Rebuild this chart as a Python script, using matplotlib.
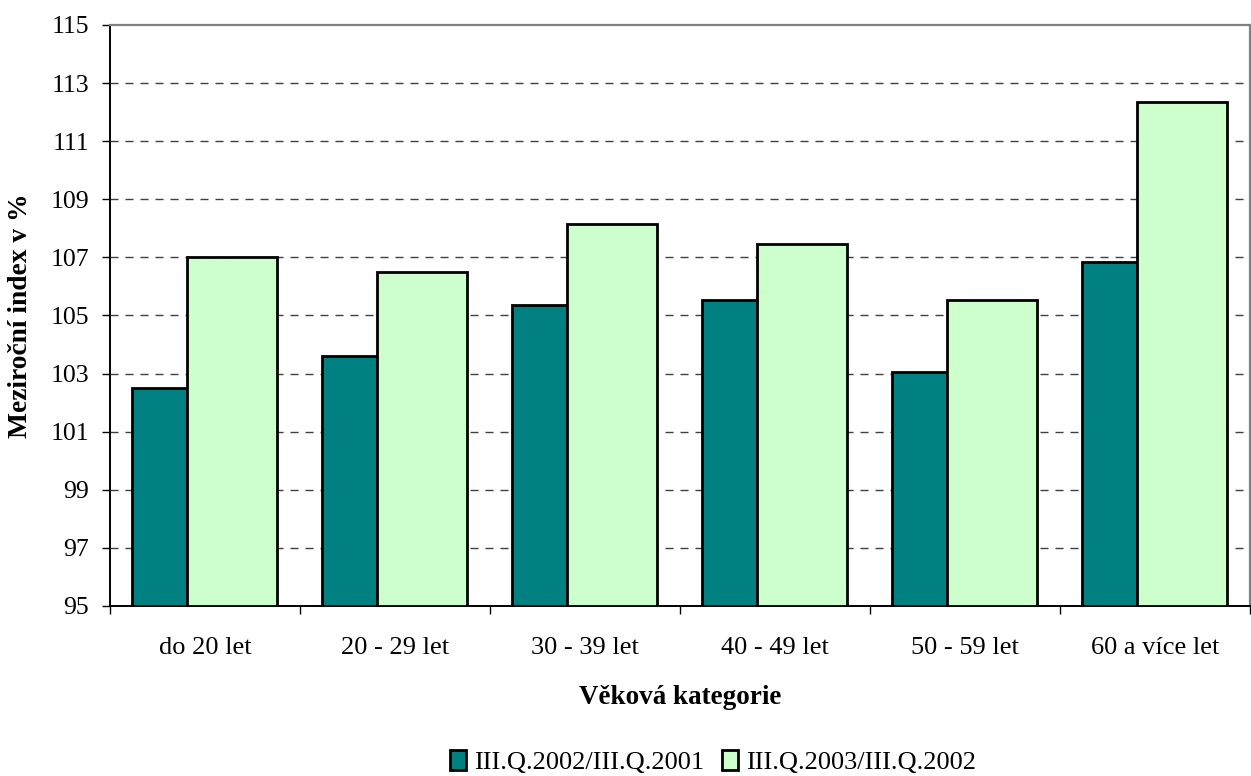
import numpy as np
import matplotlib.pyplot as plt
from matplotlib.patches import Patch

categories = ['do 20 let', '20 - 29 let', '30 - 39 let', '40 - 49 let', '50 - 59 let', '60 a více let']
series_names = ['III.Q.2002/III.Q.2001', 'III.Q.2003/III.Q.2002']
idx_2002 = [102.5, 103.6, 105.37, 105.52, 103.05, 106.84]
idx_2003 = [107.0, 106.5, 108.15, 107.46, 105.55, 112.35]
yticks = list(range(95, 116, 2))

plt.rcParams['font.family'] = ['Liberation Serif', 'DejaVu Serif']

fig = plt.figure(figsize=(12.51, 7.76), dpi=100)
ax = fig.add_axes([0.0879, 0.2191, 0.9113, 0.7487])

x = np.arange(len(categories))
w = 0.474
# Excel-style overlap: second series drawn over the first one
ax.bar(x - 0.382, np.array(idx_2002) - 95, bottom=95, width=w, align='edge',
       color='#008080', edgecolor='black', linewidth=2.0, zorder=3)
ax.bar(x - 0.094, np.array(idx_2003) - 95, bottom=95, width=w, align='edge',
       color='#CCFFCC', edgecolor='black', linewidth=2.0, zorder=4)

ax.set_ylim(95, 115)
ax.set_xlim(-0.5, len(categories) - 0.5)
ax.set_yticks(yticks)
ax.set_yticklabels([str(t) for t in yticks], fontsize=18.5)
ax.tick_params(axis='y', direction='out', length=6, width=1, pad=9)

# ticks between the groups, labels in the middle
ax.set_xticks(np.arange(len(categories) + 1) - 0.5)
ax.set_xticklabels([])
ax.tick_params(axis='x', which='major', direction='out', length=6, width=1)
ax.set_xticks(x, minor=True)
ax.set_xticklabels(categories, minor=True, fontsize=19)
ax.tick_params(axis='x', which='minor', length=0, pad=22)

for yv in yticks[1:-1]:
    ax.axhline(yv, color='#404040', linewidth=1.0, linestyle=(0, (5.8, 5)), zorder=1)

ax.spines['left'].set_color('black')
ax.spines['bottom'].set_color('black')
ax.spines['left'].set_linewidth(1.4)
ax.spines['bottom'].set_linewidth(1.4)
ax.spines['top'].set_color('#808080')
ax.spines['right'].set_color('#808080')
ax.spines['top'].set_linewidth(1.6)
ax.spines['right'].set_linewidth(1.6)

ax.set_ylabel('Meziroční index v %', fontsize=19.8, fontweight='bold')
ax.yaxis.set_label_coords(-0.0675, 0.5)
ax.set_xlabel('Věková kategorie', fontsize=19.5, fontweight='bold', va='top')
ax.xaxis.set_label_coords(0.5, -0.136)

handles = [Patch(facecolor='#008080', edgecolor='black', linewidth=2.0),
           Patch(facecolor='#CCFFCC', edgecolor='black', linewidth=2.0)]
fig.legend(handles, series_names, loc='center', bbox_to_anchor=(0.57, 0.018),
           ncol=2, frameon=False, fontsize=19, handlelength=0.6, handleheight=0.8,
           handletextpad=0.3, columnspacing=0.7, borderaxespad=0, borderpad=0)

plt.savefig('out.png', dpi=100)
